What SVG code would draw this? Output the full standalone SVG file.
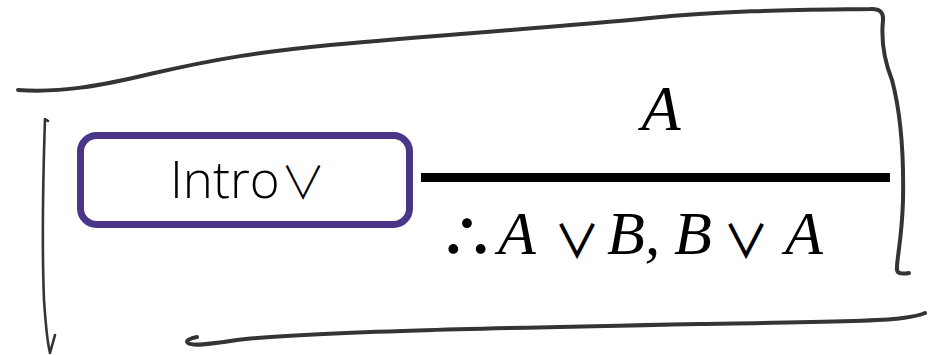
<svg xmlns="http://www.w3.org/2000/svg" width="936" height="355" viewBox="0 0 936 355">
<style>
.hand{fill:none;stroke:#343434;stroke-linecap:round;stroke-linejoin:round}
.math{font-family:"Liberation Serif","DejaVu Serif",serif;font-style:italic;fill:#000}
.sym{font-family:"Noto Sans CJK JP","DejaVu Sans",sans-serif;font-style:normal;fill:#000;text-anchor:middle}
</style>
<rect width="936" height="355" fill="#fff"/>
<g id="frame">
<path class="hand" stroke-width="4" d="M18,90 C60,93 100,86 150,74 C220,58 260,52 330,45 C450,34 560,27 650,18 C730,10 800,10 870,9 Q884,8 883,20 C881,40 884,60 892,80 C900,110 904,150 903,200 C902,240 896,262 897,270 Q898,275 909,273"/>
<path class="hand" stroke-width="4" d="M197,337 C190,338 185,341 188,343 C192,346 205,345 237,340 C300,332 500,328 700,324 C800,322 880,322 903,318 Q918,316 925,313"/>
<path class="hand" stroke-width="2.6" d="M48,121 L45,119 C43,180 42,250 44,300 C46,330 48,345 50,353 L55,335"/>
</g>
<g id="rule-node">
<rect x="80.5" y="135.5" width="329" height="89" rx="16" ry="16" fill="#fff" stroke="#4b3587" stroke-width="7"/>
<text x="170" y="198" font-family="'Open Sans','Noto Sans',sans-serif" font-weight="300" font-size="51" fill="#000">Intro</text>
<text x="303" y="199" class="sym" font-weight="300" font-size="45">∨</text>
</g>
<g id="connectors">
<line x1="421" y1="177.5" x2="890" y2="177.5" stroke="#000" stroke-width="9"/>
</g>
<g id="premise">
<text x="661" y="130" class="math" font-size="64" text-anchor="middle">A</text>
</g>
<g id="conclusion">
<text x="467" y="257" class="sym" font-weight="700" font-size="56">∴</text>
<text x="498" y="254" class="math" font-size="62">A</text>
<text x="577" y="258" class="sym" font-weight="500" font-size="46">∨</text>
<text x="607" y="254" class="math" font-size="62">B,</text>
<text x="674" y="254" class="math" font-size="62">B</text>
<text x="746" y="258" class="sym" font-weight="500" font-size="46">∨</text>
<text x="785" y="254" class="math" font-size="62">A</text>
</g>
</svg>
